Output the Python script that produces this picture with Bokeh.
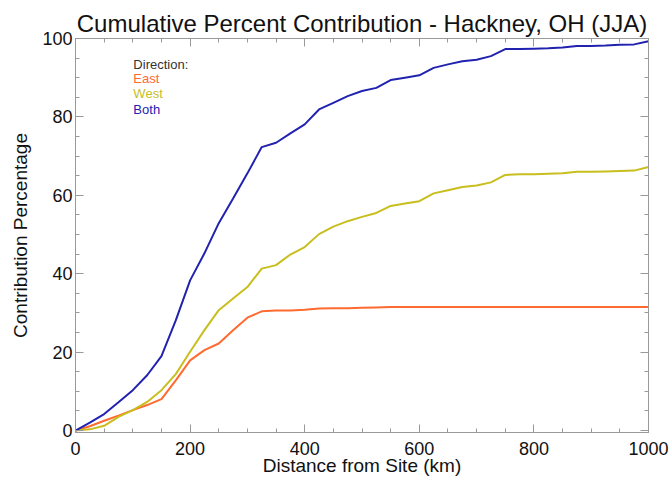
from bokeh.plotting import figure
from bokeh.models import LinearAxis, SingleIntervalTicker, Range1d, Label, Title
from bokeh.embed import file_html
from bokeh.resources import INLINE

distance = [0, 25, 50, 75, 100, 125, 150, 175, 200, 225, 250, 275, 300, 325, 350, 375, 400,
            425, 450, 475, 500, 525, 550, 575, 600, 625, 650, 675, 700, 725, 750, 775, 800,
            825, 850, 875, 900, 925, 950, 975, 1000]

east = [0.0, 1.1, 2.5, 3.8, 5.2, 6.5, 8.0, 12.8, 17.9, 20.5, 22.2, 25.6, 28.8, 30.4, 30.6,
        30.6, 30.8, 31.1, 31.2, 31.2, 31.3, 31.4, 31.5, 31.5, 31.5, 31.5, 31.5, 31.5, 31.5,
        31.5, 31.5, 31.5, 31.5, 31.5, 31.5, 31.5, 31.5, 31.5, 31.5, 31.5, 31.5]

west = [0.0, 0.3, 1.2, 3.5, 5.2, 7.3, 10.3, 14.4, 20.1, 25.6, 30.7, 33.7, 36.6, 41.3, 42.2,
        44.9, 46.8, 50.1, 52.0, 53.4, 54.5, 55.5, 57.3, 57.9, 58.5, 60.5, 61.3, 62.1, 62.5,
        63.3, 65.2, 65.4, 65.4, 65.5, 65.6, 66.0, 66.0, 66.1, 66.2, 66.3, 67.2]

both = [0.0, 2.0, 4.2, 7.2, 10.3, 14.1, 19.0, 28.1, 38.3, 45.2, 52.9, 59.2, 65.6, 72.3, 73.4,
        75.8, 78.1, 81.9, 83.6, 85.3, 86.6, 87.4, 89.4, 90.0, 90.6, 92.5, 93.4, 94.2, 94.6,
        95.5, 97.3, 97.3, 97.4, 97.5, 97.7, 98.1, 98.1, 98.2, 98.4, 98.5, 99.3]

series_names = ["East", "West", "Both"]
series_colors = ["#ff6a30", "#c8be1e", "#2222b0"]

x_ticks = [0, 200, 400, 600, 800, 1000]
y_ticks = [0, 20, 40, 60, 80, 100]

FONT = "Liberation Sans"

p = figure(width=672, height=482, output_backend="svg", toolbar_location=None,
           x_range=Range1d(0, 1000), y_range=Range1d(-0.5, 100),
           min_border_left=75, min_border_right=24, min_border_top=38, min_border_bottom=50,
           x_axis_location=None, y_axis_location=None)

p.title = Title(text="Cumulative Percent Contribution - Hackney, OH (JJA)", align="center",
                text_font=FONT, text_font_size="24px", text_font_style="normal",
                text_color="#111111", standoff=3, offset=0)

p.xgrid.visible = False
p.ygrid.visible = False
p.outline_line_color = "#999999"
p.background_fill_color = "white"
p.border_fill_color = "white"

def make_axis(interval, ticks, show_labels, standoff=6, label=None, label_standoff=4):
    ax = LinearAxis(ticker=SingleIntervalTicker(interval=interval, num_minor_ticks=4))
    ax.major_tick_in = 8
    ax.major_tick_out = 0
    ax.minor_tick_in = 4
    ax.minor_tick_out = 0
    ax.axis_line_color = "#999999"
    ax.major_tick_line_color = "#999999"
    ax.minor_tick_line_color = "#999999"
    ax.major_label_text_font = FONT
    ax.major_label_text_font_size = "18px"
    ax.major_label_text_color = "#111111"
    if show_labels:
        ax.major_label_standoff = standoff
    else:
        ax.major_label_overrides = {t: "" for t in ticks}
        ax.major_label_standoff = 0
    if label:
        ax.axis_label = label
        ax.axis_label_text_font = FONT
        ax.axis_label_text_font_size = "19px"
        ax.axis_label_text_font_style = "normal"
        ax.axis_label_text_color = "#111111"
        ax.axis_label_standoff = label_standoff
    return ax

p.add_layout(make_axis(200, x_ticks, True, 9, "Distance from Site (km)", -3), "below")
p.add_layout(make_axis(20, y_ticks, True, 3, "Contribution Percentage", 8), "left")
p.add_layout(make_axis(200, x_ticks, False), "above")
p.add_layout(make_axis(20, y_ticks, False), "right")

for name, ys, col in zip(series_names, [east, west, both], series_colors):
    p.line(distance, ys, line_color=col, line_width=2)

legend_items = [("Direction:", "#333333")] + list(zip(series_names, series_colors))
legend_y = [93.4, 89.9, 85.9, 82.0]
for (txt, col), ly in zip(legend_items, legend_y):
    p.add_layout(Label(x=101, y=ly, text=txt, text_color=col, text_font=FONT,
                       text_font_size="13px", text_baseline="middle", text_align="left"))

open("out.html", "w").write(file_html(p, INLINE))
